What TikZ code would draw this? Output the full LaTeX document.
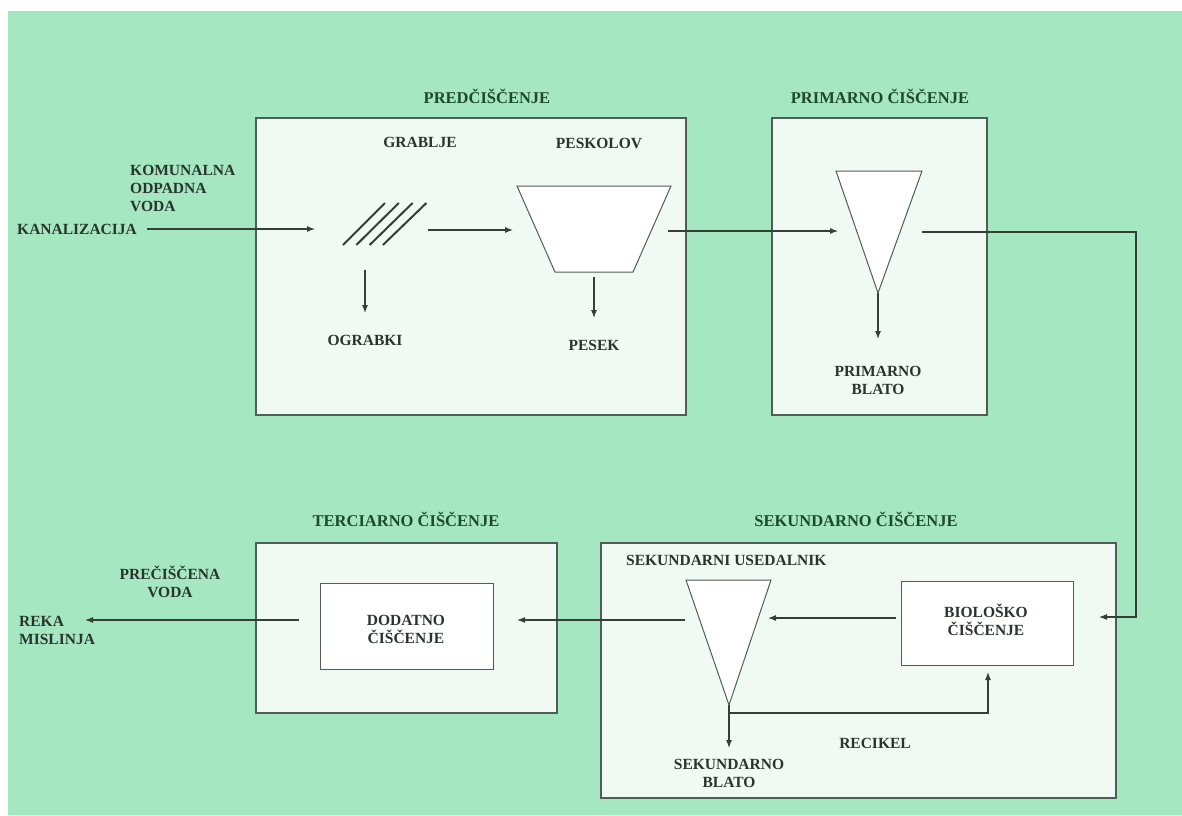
\documentclass[tikz,border=0pt]{standalone}
\usepackage{fontspec}
\setmainfont{Liberation Serif}
\usetikzlibrary{arrows.meta}
\definecolor{bg}{HTML}{A4E7C1}
\definecolor{boxfill}{HTML}{F0FAF3}
\definecolor{boxline}{HTML}{4E5E55}
\definecolor{titlec}{HTML}{1E4A2C}
\definecolor{labc}{HTML}{2A342E}
\definecolor{linec}{HTML}{333F38}
\begin{document}
\begin{tikzpicture}[x=1pt,y=-1pt,
 stage/.style={draw=boxline, line width=1.3pt, fill=boxfill},
 unit/.style={draw=boxline, line width=1pt, fill=white},
 title/.style={font=\bfseries\fontsize{16.5}{19}\selectfont, text=titlec, inner sep=0pt},
 lab/.style={font=\bfseries\fontsize{15.5}{18}\selectfont, text=labc, align=center, inner sep=0pt},
 flow/.style={draw=linec, line width=1.1pt, -{Latex[length=8pt,width=6pt]}},
 rake/.style={draw=linec, line width=2pt}]
% canvas
\path[fill=white] (0,0) rectangle (1182,815);
\path[fill=bg] (8,11) rectangle (1182,815);
\useasboundingbox (0,0) rectangle (1182,815);

% stage boxes
\draw[stage] (256,118) rectangle (686,415);
\coordinate (pred) at (471,266);
\draw[stage] (772,118) rectangle (987,415);
\coordinate (prim) at (879,266);
\draw[stage] (256,543) rectangle (557,713);
\coordinate (tert) at (406,628);
\draw[stage] (601,543) rectangle (1116,798);
\coordinate (sek) at (858,670);

% titles
\node[title] (tpred) at (487,96) {PREDČIŠČENJE};
\node[title] (tprim) at (880,96) {PRIMARNO ČIŠČENJE};
\node[title] (tter) at (406,519) {TERCIARNO ČIŠČENJE};
\node[title] (tsek) at (856,519) {SEKUNDARNO ČIŠČENJE};

% inner units
\node[unit, minimum width=173pt, minimum height=86pt] (dod) at (406.5,626) {};
\node[lab] (doddtxt) at (406,629) {DODATNO\\ČIŠČENJE};
\node[unit, minimum width=172pt, minimum height=84pt] (bio) at (987,623) {};
\node[lab] (biotxt) at (986,620) {BIOLOŠKO\\ČIŠČENJE};

% peskolov trapezoid
\draw[unit] (517,186) coordinate (pk1) -- (671,186) coordinate (pk2) -- (633,272) coordinate (pk3) -- (555,272) coordinate (pk4) -- cycle;
% primary settler
\draw[unit] (836,171) coordinate (ps1) -- (922,171) coordinate (ps2) -- (878,293) coordinate (ps3) -- cycle;
% secondary settler
\draw[unit] (686,580) coordinate (ss1) -- (771,580) coordinate (ss2) -- (729,705) coordinate (ss3) -- cycle;
% rake
\foreach \i in {0,1,2,3} {
  \draw[rake] ({343+13.3*\i},245) -- ({385+13.8*\i},203);
}

% labels
\node[lab, anchor=west] (kan) at (17,229) {KANALIZACIJA};
\node[lab, align=left, anchor=north west] (kom) at (130,165) {KOMUNALNA\\ODPADNA\\VODA};
\node[lab] (grab) at (420,142) {GRABLJE};
\node[lab] (pesk) at (599,143) {PESKOLOV};
\node[lab] (ograb) at (365,340) {OGRABKI};
\node[lab] (pesek) at (594,345) {PESEK};
\node[lab] (pblato) at (878,380) {PRIMARNO\\BLATO};
\node[lab, anchor=west] (usd) at (626,560) {SEKUNDARNI USEDALNIK};
\node[lab] (recik) at (875,743) {RECIKEL};
\node[lab] (sblato) at (729,773) {SEKUNDARNO\\BLATO};
\node[lab] (precis) at (170,582) {PREČIŠČENA\\VODA};
\node[lab, align=left, anchor=west] (reka) at (19,630) {REKA\\MISLINJA};

% connector endpoints
\coordinate (a1) at (147,229);  \coordinate (a2) at (315,229);
\coordinate (b1) at (428,230);  \coordinate (b2) at (513,230);
\coordinate (c1) at (365,270);  \coordinate (c2) at (365,313);
\coordinate (d1) at (594,277);  \coordinate (d2) at (594,318);
\coordinate (e1) at (668,231);  \coordinate (e2) at (838,231);
\coordinate (f2) at (878,339);
\coordinate (g1) at (922,232);  \coordinate (g2) at (1136,232);
\coordinate (g3) at (1136,617); \coordinate (g4) at (1099,617);
\coordinate (h1) at (896,618);  \coordinate (h2) at (768,618);
\coordinate (i1) at (685,620);  \coordinate (i2) at (517,620);
\coordinate (j1) at (299,620);  \coordinate (j2) at (85,620);
\coordinate (k2) at (729,748);
\coordinate (r1) at (729,713);  \coordinate (r2) at (988,713); \coordinate (r3) at (988,672);

% connectors
\draw[flow] (a1) -- (a2);
\draw[flow] (b1) -- (b2);
\draw[flow] (c1) -- (c2);
\draw[flow] (d1) -- (d2);
\draw[flow] (e1) -- (e2);
\draw[flow] (ps3) -- (f2);
\draw[flow] (g1) -- (g2) -- (g3) -- (g4);
\draw[flow] (h1) -- (h2);
\draw[flow] (i1) -- (i2);
\draw[flow] (j1) -- (j2);
\draw[flow] (ss3) -- (k2);
\draw[flow] (r1) -- (r2) -- (r3);
\end{tikzpicture}
\end{document}
